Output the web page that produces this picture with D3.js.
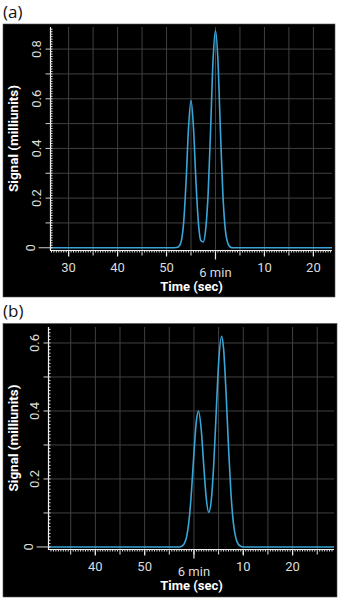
<!DOCTYPE html>
<html>
<head>
<meta charset="utf-8">
<script src="https://cdn.jsdelivr.net/npm/d3@7"></script>
<style>
  html, body { margin: 0; padding: 0; background: #ffffff; }
  svg { display: block; }
</style>
</head>
<body>
<svg id="chart" width="341" height="600"></svg>
<script>
// ---- Data (time in seconds; 360 s = 6 min) ----
const timeA   = [326.4, 335, 345, 351, 352, 352.5, 353, 353.5, 354, 354.5, 355, 355.5, 356, 356.5, 357, 357.5, 358, 358.5, 359, 359.5, 360, 360.5, 361, 361.5, 362, 362.5, 363, 363.5, 364, 370, 383.8];
const signalA = [0, 0, 0, 0, 0.001, 0.005, 0.026, 0.102, 0.27, 0.485, 0.594, 0.485, 0.27, 0.103, 0.029, 0.023, 0.075, 0.219, 0.475, 0.754, 0.875, 0.754, 0.475, 0.219, 0.075, 0.019, 0.003, 0, 0, 0, 0];

const timeB   = [330.6, 340, 350, 356, 357, 357.5, 358, 358.5, 359, 359.5, 360, 360.5, 360.9, 361.5, 362, 362.5, 363, 363.5, 364, 364.5, 365, 365.6, 366, 366.5, 367, 367.5, 368, 368.5, 369, 369.5, 370, 380, 388.4];
const signalB = [0, 0, 0, 0, 0, 0.002, 0.009, 0.029, 0.078, 0.164, 0.277, 0.372, 0.40, 0.341, 0.236, 0.142, 0.102, 0.136, 0.241, 0.393, 0.541, 0.62, 0.584, 0.456, 0.296, 0.158, 0.07, 0.026, 0.008, 0.002, 0, 0, 0];

const xTickValuesA = [330, 340, 350, 360, 370, 380];
const xTickLabelsA = ["30", "40", "50", "6 min", "10", "20"];
const xTickValuesB = [340, 350, 360, 370, 380];
const xTickLabelsB = ["40", "50", "6 min", "10", "20"];

const yTickValuesA = [0, 0.2, 0.4, 0.6, 0.8];
const yTickLabelsA = ["0", "0.2", "0.4", "0.6", "0.8"];
const yTickValuesB = [0, 0.2, 0.4, 0.6];
const yTickLabelsB = ["0", "0.2", "0.4", "0.6"];

const panelLabels = ["(a)", "(b)"];
const xTitle = "Time (sec)";
const yTitle = "Signal (milliunits)";

// ---- Drawing ----
const svg = d3.select("#chart");
const FONT = "Roboto, 'Noto Sans', sans-serif";

function drawPanel(cfg) {
  const g = svg.append("g");
  // panel label
  g.append("text")
    .attr("x", 3).attr("y", cfg.labelY)
    .attr("font-family", "'Open Sans', 'Noto Sans', sans-serif")
    .attr("font-size", 17)
    .attr("fill", "#111")
    .text(cfg.label);

  // black background
  g.append("rect")
    .attr("x", cfg.box[0]).attr("y", cfg.box[1])
    .attr("width", cfg.box[2] - cfg.box[0]).attr("height", cfg.box[3] - cfg.box[1])
    .attr("fill", "#000")
    .attr("stroke", "#555").attr("stroke-width", 0.6);

  const x = d3.scaleLinear().domain(cfg.xDomain).range([cfg.plot.left, cfg.plot.right]);
  const y = d3.scaleLinear().domain(cfg.yDomain).range([cfg.plot.bottom, cfg.plot.top]);

  // grid
  const gx = d3.range(Math.ceil(cfg.xDomain[0] / 5) * 5, cfg.xDomain[1], 5);
  const gy = d3.range(0.1, cfg.yDomain[1], 0.1);
  g.append("g").selectAll("line").data(gx).join("line")
    .attr("x1", d => x(d)).attr("x2", d => x(d))
    .attr("y1", cfg.plot.top).attr("y2", cfg.plot.bottom)
    .attr("stroke", "#404040").attr("stroke-width", 1);
  g.append("g").selectAll("line").data(gy).join("line")
    .attr("x1", cfg.plot.left).attr("x2", cfg.plot.right)
    .attr("y1", d => y(d)).attr("y2", d => y(d))
    .attr("stroke", "#404040").attr("stroke-width", 1);

  // signal line
  const pts = cfg.time.map((t, i) => [t, cfg.signal[i]]);
  const line = d3.line().x(d => x(d[0])).y(d => y(d[1])).curve(d3.curveMonotoneX);
  g.append("path").datum(pts)
    .attr("d", line)
    .attr("fill", "none")
    .attr("stroke", "#3aa6d8")
    .attr("stroke-width", 1.6);

  // x axis line + ticks
  const axisY = cfg.plot.bottom + 0.5;
  g.append("line")
    .attr("x1", cfg.plot.left).attr("x2", cfg.plot.right)
    .attr("y1", axisY).attr("y2", axisY)
    .attr("stroke", "#f0f0f0").attr("stroke-width", 1.2);
  const minorX = d3.range(Math.ceil(cfg.xDomain[0] * 2) / 2, cfg.xDomain[1], 0.5);
  g.append("g").selectAll("line").data(minorX).join("line")
    .attr("x1", d => x(d)).attr("x2", d => x(d))
    .attr("y1", axisY).attr("y2", d => axisY + (d % 5 === 0 ? 5 : 2))
    .attr("stroke", "#e8e8e8").attr("stroke-width", 1);
  g.append("g").selectAll("line").data(cfg.xTicks).join("line")
    .attr("x1", d => x(d)).attr("x2", d => x(d))
    .attr("y1", axisY).attr("y2", d => axisY + (d === 360 ? 9 : 6))
    .attr("stroke", "#e8e8e8").attr("stroke-width", 1.2);
  g.append("g").selectAll("text").data(cfg.xTicks).join("text")
    .attr("x", d => x(d))
    .attr("y", d => d === 360 ? cfg.plot.bottom + 27 : cfg.plot.bottom + 22)
    .attr("text-anchor", "middle")
    .attr("font-family", FONT).attr("font-size", 13)
    .attr("fill", "#dcdcdc")
    .text((d, i) => cfg.xLabels[i]);
  g.append("text")
    .attr("x", (cfg.plot.left + cfg.plot.right) / 2)
    .attr("y", cfg.plot.bottom + 41)
    .attr("text-anchor", "middle")
    .attr("font-family", FONT).attr("font-size", 13).attr("font-weight", "bold")
    .attr("fill", "#ffffff")
    .text(xTitle);

  // y axis line + ticks
  const axisX = cfg.plot.left - 0.5;
  g.append("line")
    .attr("x1", axisX).attr("x2", axisX)
    .attr("y1", cfg.plot.top).attr("y2", cfg.plot.bottom + 1)
    .attr("stroke", "#f0f0f0").attr("stroke-width", 1.2);
  const minorY = d3.range(0, cfg.yDomain[1], 0.01);
  g.append("g").selectAll("line").data(minorY).join("line")
    .attr("x1", axisX).attr("x2", axisX + 2)
    .attr("y1", d => y(d)).attr("y2", d => y(d))
    .attr("stroke", "#e8e8e8").attr("stroke-width", 1);
  g.append("g").selectAll("line").data(gy).join("line")
    .attr("x1", axisX - 5).attr("x2", axisX)
    .attr("y1", d => y(d)).attr("y2", d => y(d))
    .attr("stroke", "#d0d0d0").attr("stroke-width", 1);
  g.append("line")
    .attr("x1", axisX - 12).attr("x2", axisX)
    .attr("y1", y(0)).attr("y2", y(0))
    .attr("stroke", "#d0d0d0").attr("stroke-width", 1);
  g.append("g").selectAll("text").data(cfg.yTicks).join("text")
    .attr("transform", d => `translate(${d === 0 ? axisX - 16 : axisX - 9.5},${y(d)}) rotate(-90)`)
    .attr("text-anchor", "middle")
    .attr("font-family", FONT).attr("font-size", 13)
    .attr("fill", "#dcdcdc")
    .text((d, i) => cfg.yLabels[i]);
  g.append("text")
    .attr("transform", `translate(18,${(cfg.plot.top + cfg.plot.bottom) / 2}) rotate(-90)`)
    .attr("text-anchor", "middle")
    .attr("font-family", FONT).attr("font-size", 13.5).attr("font-weight", "bold")
    .attr("fill", "#ffffff")
    .text(yTitle);
}

drawPanel({
  label: panelLabels[0], labelY: 18,
  box: [3, 24, 335, 297],
  plot: { left: 51, right: 332, top: 27, bottom: 250 },
  xDomain: [326.4, 383.8], yDomain: [-0.009, 0.889],
  time: timeA, signal: signalA,
  xTicks: xTickValuesA, xLabels: xTickLabelsA,
  yTicks: yTickValuesA, yLabels: yTickLabelsA
});

drawPanel({
  label: panelLabels[1], labelY: 317,
  box: [3, 323.5, 337, 597],
  plot: { left: 49, right: 334, top: 327, bottom: 549 },
  xDomain: [330.6, 388.4], yDomain: [-0.006, 0.647],
  time: timeB, signal: signalB,
  xTicks: xTickValuesB, xLabels: xTickLabelsB,
  yTicks: yTickValuesB, yLabels: yTickLabelsB
});
</script>
</body>
</html>
